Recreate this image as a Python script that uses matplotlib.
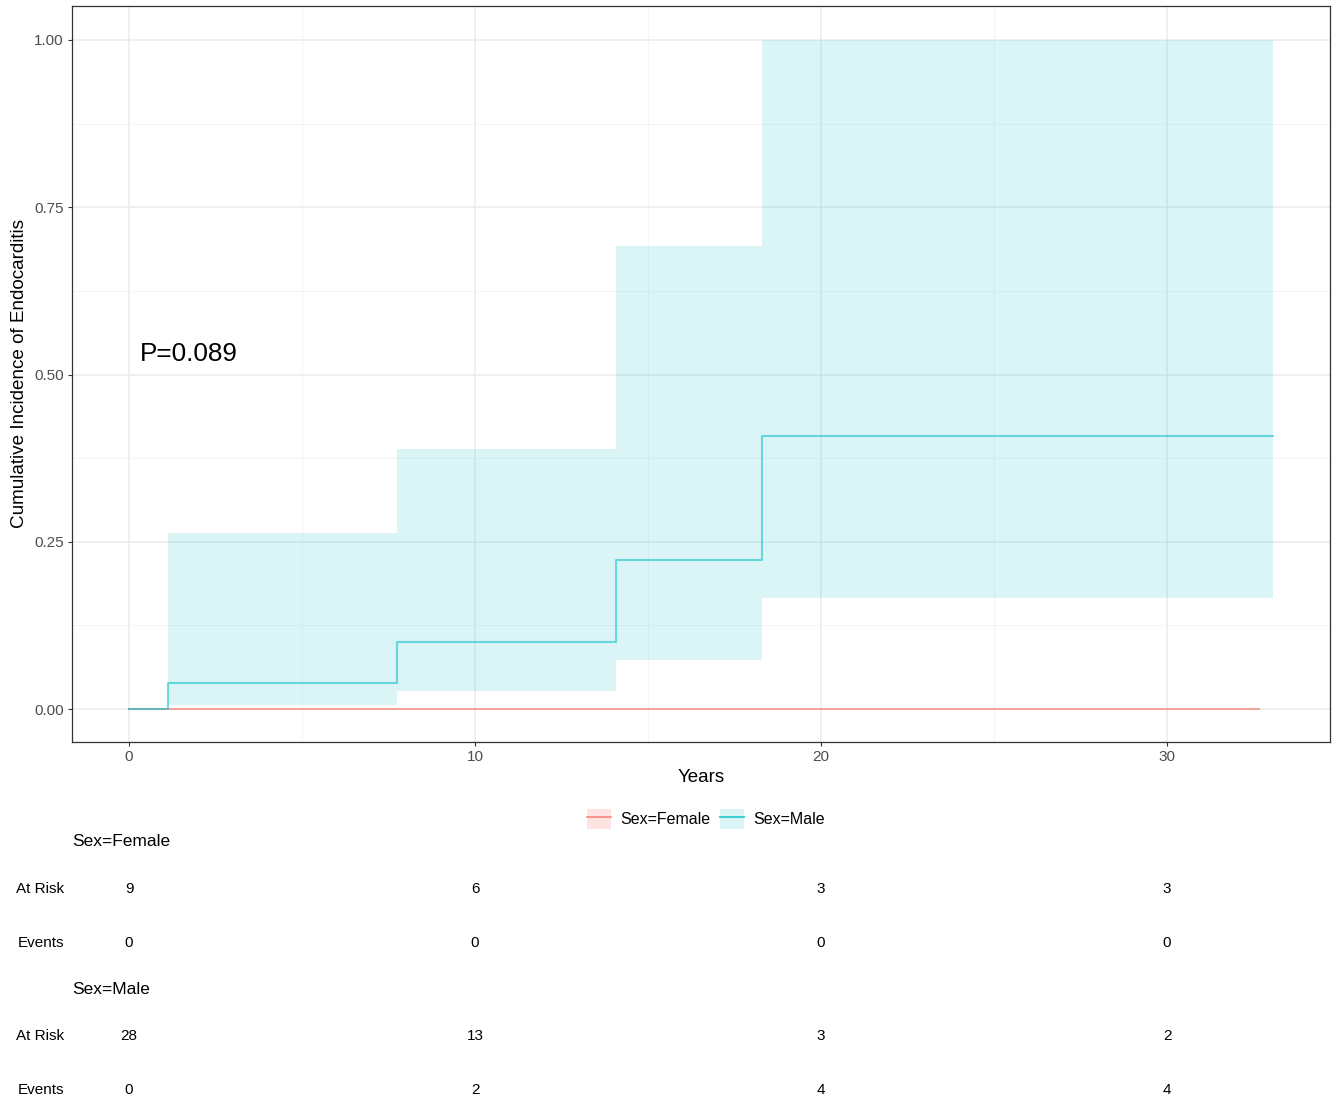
import matplotlib
matplotlib.use('Agg')
import matplotlib.pyplot as plt
import matplotlib.transforms as mtrans
from matplotlib.patches import Patch
from matplotlib.lines import Line2D
from matplotlib.ticker import MultipleLocator

plt.rcParams['font.family'] = ['Liberation Sans', 'DejaVu Sans']

# cumulative incidence, step curves
male_t = [0, 1.13, 7.75, 14.07, 18.3, 33.06]
male_y = [0, 0.039, 0.100, 0.223, 0.408, 0.408]
male_lo = [0, 0.006, 0.027, 0.073, 0.166, 0.166]
male_hi = [0, 0.263, 0.389, 0.692, 1.0, 1.0]
female_t = [0, 32.65]
female_y = [0, 0]

# risk table
table_times = [0, 10, 20, 30]
female_risk = [9, 6, 3, 3]
female_events = [0, 0, 0, 0]
male_risk = [28, 13, 3, 2]
male_events = [0, 2, 4, 4]

red = '#F8766D'
teal = '#00BFC4'

W, H = 1338, 1103
fig = plt.figure(figsize=(W/100, H/100), dpi=100)
ax = fig.add_axes([72/W, 1-742/H, (1330-72)/W, (742-6)/H])

ax.fill_between(male_t[1:], male_lo[1:], male_hi[1:], step='post', color=teal, alpha=0.14, lw=0)
ax.step(female_t, female_y, where='post', color=red, alpha=0.7, lw=1.3)
ax.step(male_t, male_y, where='post', color=teal, alpha=0.55, lw=1.5)

ax.set_xlim(-1.65, 34.71)
ax.set_ylim(-0.0493, 1.0508)
ax.xaxis.set_major_locator(MultipleLocator(10))
ax.xaxis.set_minor_locator(MultipleLocator(5))
ax.yaxis.set_major_locator(MultipleLocator(0.25))
ax.yaxis.set_minor_locator(MultipleLocator(0.125))
ax.set_yticks([0, 0.25, 0.5, 0.75, 1.0])
ax.set_yticklabels(['0.00', '0.25', '0.50', '0.75', '1.00'])
ax.grid(True, which='major', color='#EBEBEB', lw=1.1)
ax.grid(True, which='minor', color='#F2F2F2', lw=0.6)
ax.set_axisbelow(True)
ax.tick_params(which='minor', length=0)
ax.tick_params(which='major', length=3, color='#333333', labelsize=11, labelcolor='#4D4D4D', pad=3)
for s in ax.spines.values():
    s.set_color('#333333')
    s.set_linewidth(0.9)

ax.set_xlabel('Years', fontsize=13.5, labelpad=3)
ax.set_ylabel('Cumulative Incidence of Endocarditis', fontsize=13.6, labelpad=4)
ax.text(0.3, 0.53, 'P=0.089', fontsize=18.8, va='center', ha='left')

handles = [(Patch(facecolor=red, alpha=0.2, lw=0), Line2D([], [], color=red, alpha=0.8, lw=1.3)),
           (Patch(facecolor=teal, alpha=0.14, lw=0), Line2D([], [], color=teal, alpha=0.7, lw=1.5))]
fig.legend(handles, ['Sex=Female', 'Sex=Male'], loc='center', bbox_to_anchor=(706/W, 1-819/H),
           ncol=2, frameon=False, fontsize=11.5, handlelength=1.5, handleheight=1.5,
           columnspacing=0.6, handletextpad=0.6)

# risk table
tr = mtrans.blended_transform_factory(ax.transData, fig.transFigure)
rows = [(842, 'Sex=Female', None),
        (889, 'At Risk', female_risk),
        (943, 'Events', female_events),
        (989, 'Sex=Male', None),
        (1036, 'At Risk', male_risk),
        (1090, 'Events', male_events)]
for ypix, label, vals in rows:
    yf = 1 - ypix/H
    if vals is None:
        fig.text(72/W, yf, label, fontsize=12.5, ha='left', va='center')
    else:
        fig.text(64/W, yf, label, fontsize=11, ha='right', va='center')
        for t, v in zip(table_times, vals):
            ax.text(t, yf, str(v), transform=tr, fontsize=11, ha='center', va='center', clip_on=False)

fig.savefig('out.png', dpi=100, facecolor='white')
